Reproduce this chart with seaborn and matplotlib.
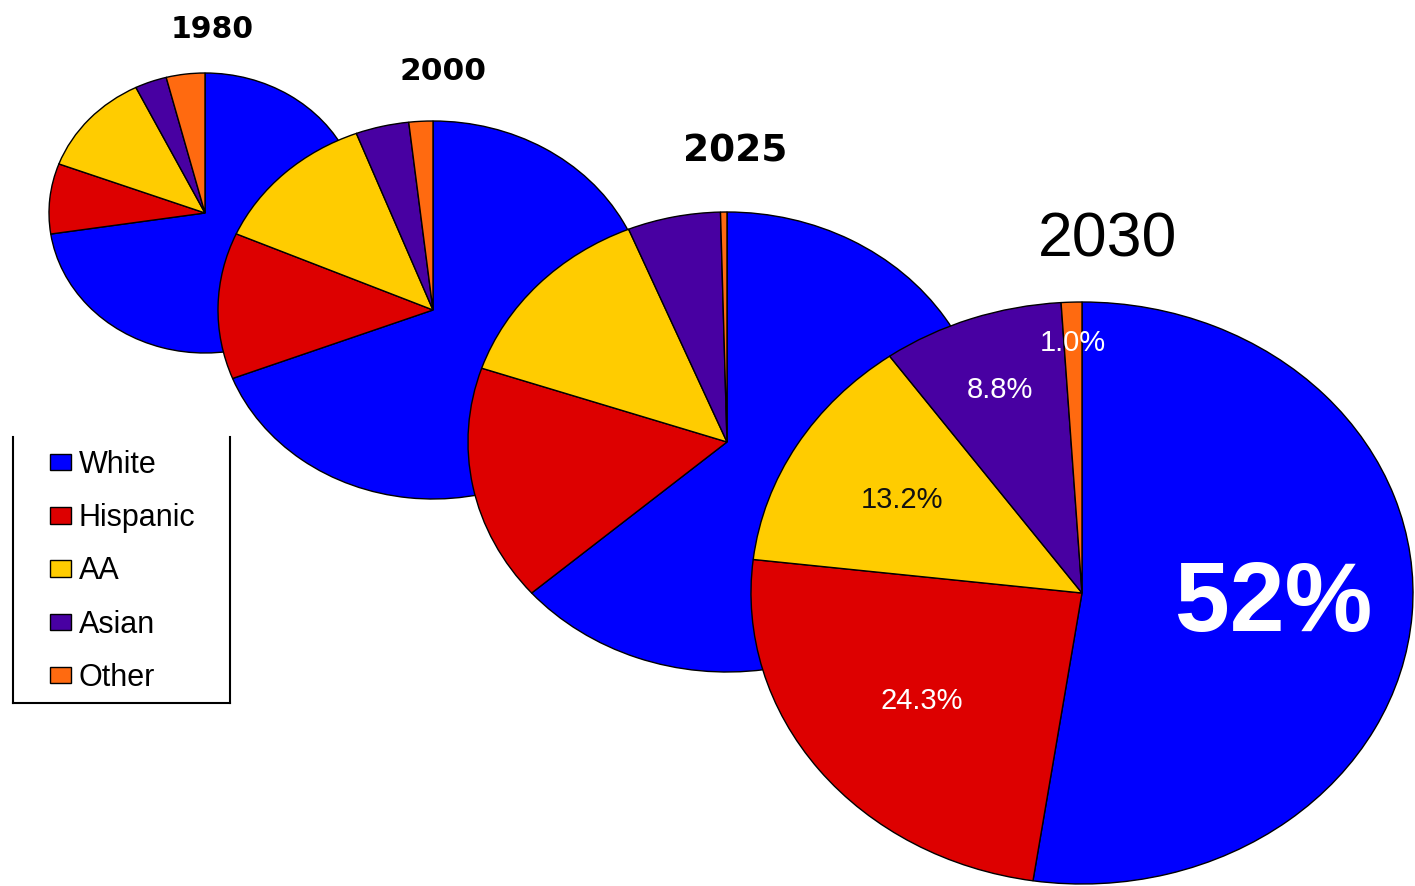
import numpy as np
import matplotlib
matplotlib.use("Agg")
import matplotlib.pyplot as plt
import seaborn as sns

sns.set_style("white")
plt.rcParams['font.family'] = ['Liberation Sans', 'DejaVu Sans']
plt.rcParams['text.color'] = 'black'

# population shares (%) by group
groups = ["White", "Hispanic", "AA", "Asian", "Other"]
years = ["1980", "2000", "2025", "2030"]
share_1980 = [72.6, 8.1, 12.0, 3.3, 4.0]
share_2000 = [69.1, 12.5, 12.6, 4.0, 1.8]
share_2025 = [63.6, 16.6, 13.6, 5.8, 0.4]
share_2030 = [52.0, 24.3, 13.2, 8.8, 1.0]
labels_2030 = ["52%", "24.3%", "13.2%", "8.8%", "1.0%"]

colors = ["#0000FF", "#DD0000", "#FFCC00", "#4800A2", "#FF6A10"]

W, H = 1415, 886
fig = plt.figure(figsize=(W / 100, H / 100), dpi=100)

# ellipse geometry in pixels: centre x, centre y, half width, half height
pie_geom = [(205, 213, 156, 140),
            (433, 310, 215, 189),
            (727, 442, 259, 230),
            (1082, 593, 331, 291)]
title_pos = [(212, 30, 21.5, "bold", "DejaVu Sans"),
             (443, 72, 22.5, "bold", "DejaVu Sans"),
             (735, 152, 27, "bold", "DejaVu Sans"),
             (1108, 240, 45, "normal", "Liberation Sans")]

shares = [share_1980, share_2000, share_2025, share_2030]
axes = []
for vals, (cx, cy, rx, ry) in zip(shares, pie_geom):
    ax = fig.add_axes([(cx - rx) / W, 1 - (cy + ry) / H, 2 * rx / W, 2 * ry / H])
    wedges, _ = ax.pie(vals, colors=colors, startangle=90, counterclock=False,
                       wedgeprops=dict(edgecolor="black", linewidth=1.0))
    for w in wedges:
        w.set_clip_on(False)
    ax.set_aspect("auto")
    ax.set_xlim(-1, 1)
    ax.set_ylim(-1, 1)
    ax.axis("off")
    axes.append((ax, wedges))

for yr, (x, y, fs, fw, fam) in zip(years, title_pos):
    fig.text(x / W, 1 - y / H, yr, ha="center", va="center", color="black",
             fontsize=fs, fontweight=fw, family=[fam, "DejaVu Sans"])

# percentage labels on the 2030 pie
ax30, wedges30 = axes[-1]
label_r = [0.58, 0.61, 0.63, 0.74, 0.86]
label_style = [dict(fontsize=71, fontweight="bold", color="white"),
               dict(fontsize=21, color="white"),
               dict(fontsize=21, color="#111111"),
               dict(fontsize=21, color="white"),
               dict(fontsize=21, color="white")]
for w, lab, r, st in zip(wedges30, labels_2030, label_r, label_style):
    mid = np.deg2rad((w.theta1 + w.theta2) / 2)
    ax30.text(r * np.cos(mid), r * np.sin(mid), lab, ha="center", va="center", **st)

# legend box (open at the top)
lax = fig.add_axes([13 / W, 1 - 703 / H, (230 - 13) / W, (703 - 437) / H])
lax.set_xticks([])
lax.set_yticks([])
lax.patch.set_alpha(0)
lax.spines["top"].set_visible(False)
for s in ["left", "right", "bottom"]:
    lax.spines[s].set_color("black")
    lax.spines[s].set_linewidth(1.5)
leg = lax.legend(wedges30, groups, loc="upper left", bbox_to_anchor=(0.17, 0.951),
                 frameon=False, fontsize=22, handlelength=0.68, handleheight=0.45,
                 handletextpad=0.26, labelspacing=0.76, borderaxespad=0, borderpad=0)
for t in leg.get_texts():
    t.set_color("black")

fig.savefig("out.png", dpi=100)
